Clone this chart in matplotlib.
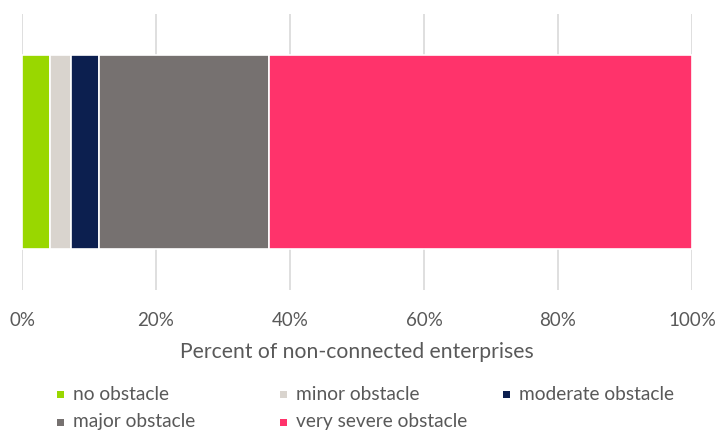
import matplotlib
matplotlib.use("Agg")
import matplotlib.pyplot as plt
from matplotlib.patches import Rectangle
from matplotlib.ticker import PercentFormatter

# Share of non-connected enterprises by how much of an obstacle they report
categories = ["no obstacle", "minor obstacle", "moderate obstacle",
              "major obstacle", "very severe obstacle"]
shares = [4.2, 3.1, 4.2, 25.4, 63.1]
colors = ["#99D700", "#D9D4CE", "#0C1F4F", "#767170", "#FF336B"]
ticks = [0, 20, 40, 60, 80, 100]

plt.rcParams["font.family"] = ["Lato", "DejaVu Sans"]
TXT = "#595959"
W, H = 718, 430

fig = plt.figure(figsize=(W / 100, H / 100), dpi=100)
ax = fig.add_axes([22 / W, 1 - 290 / H, 670 / W, 276 / H])

left = 0
for name, val, col in zip(categories, shares, colors):
    ax.barh(0, val, left=left, height=0.7, color=col, label=name,
            edgecolor="white", linewidth=1.2, zorder=3)
    left += val

ax.set_xlim(0, 100)
ax.set_ylim(-0.5, 0.5)
ax.set_yticks([])
ax.set_xticks(ticks)
ax.xaxis.set_major_formatter(PercentFormatter(decimals=0))
ax.tick_params(axis="x", length=0, pad=16, labelsize=13.5, labelcolor=TXT)
ax.grid(axis="x", color="#D9D9D9", linewidth=1.2, zorder=0)
for s in ax.spines.values():
    s.set_visible(False)

ax.set_xlabel("Percent of non-connected enterprises", fontsize=15.2,
              color=TXT, labelpad=9)

# legend laid out in fixed-width columns, three per row
col_x = [57, 280, 503]
row_y = [394, 422]
for i, (name, col) in enumerate(zip(categories, colors)):
    x = col_x[i % 3]
    y = row_y[i // 3]
    fig.add_artist(Rectangle((x / W, 1 - (y + 3.5) / H), 7 / W, 7 / H,
                             transform=fig.transFigure, color=col, lw=0))
    fig.text((x + 16) / W, 1 - y / H, name, fontsize=13.8, color=TXT,
             va="center", ha="left")

fig.savefig("out.png", dpi=100)
